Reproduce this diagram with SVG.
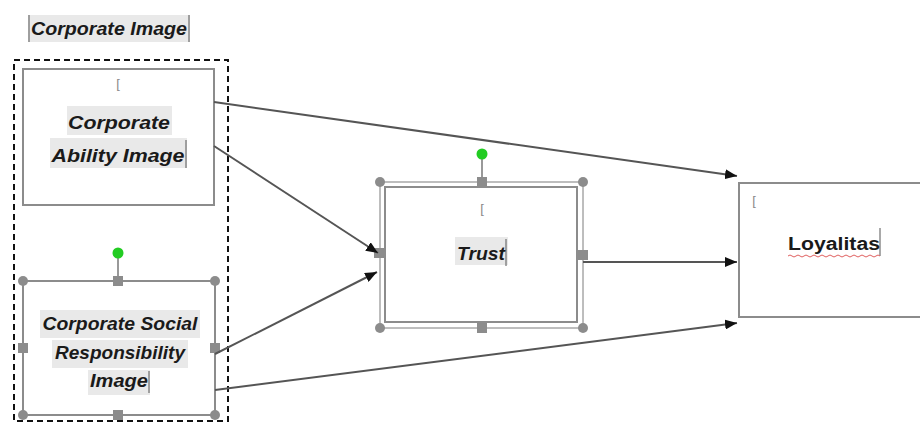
<svg xmlns="http://www.w3.org/2000/svg" width="920" height="423" viewBox="0 0 920 423">
<defs>
<marker id="arr" viewBox="0 0 12 10" refX="12" refY="5" markerWidth="12" markerHeight="10" markerUnits="userSpaceOnUse" orient="auto">
<path d="M0,0 L12,5 L0,10 z" fill="#111"/>
</marker>
<style>
.box{fill:#fff;stroke:#8c8c8c;stroke-width:2}
.frame{fill:none;stroke:#a8a8a8;stroke-width:1.5}
.hl{fill:#e9e9e9}
.lbl{font-family:"Liberation Sans",Arial,sans-serif;font-weight:bold;font-style:italic;font-size:18px;fill:#1a1a1a;text-anchor:middle}
.up{font-style:normal}
.mark{font-family:"Liberation Sans",Arial,sans-serif;font-size:13px;fill:#888;text-anchor:middle}
.conn{stroke:#555;stroke-width:2;fill:none}
.hc{fill:#8c8c8c}
.hs{fill:#8c8c8c}
.cur{stroke:#555;stroke-width:1}
</style>
</defs>
<rect width="920" height="423" fill="#fff"/>

<g id="corporate-image-group">
<rect x="14" y="60" width="214" height="361" fill="none" stroke="#111" stroke-width="2" stroke-dasharray="6,4"/>
<rect class="hl" x="28" y="15" width="162" height="27"/>
<line class="cur" x1="29" y1="15" x2="29" y2="42"/>
<line class="cur" x1="189" y1="15" x2="189" y2="42"/>
<text class="lbl" x="109" y="35" font-size="17" textLength="156" lengthAdjust="spacingAndGlyphs">Corporate Image</text>
</g>

<g id="ability">
<rect class="box" x="23" y="69" width="191" height="136"/>
<text class="mark" x="118" y="88">[</text>
<rect class="hl" x="67" y="106" width="105" height="29"/>
<rect class="hl" x="50" y="138" width="137" height="30"/>
<line class="cur" x1="186" y1="140" x2="186" y2="168"/>
<text class="lbl" x="119" y="129" textLength="102" lengthAdjust="spacingAndGlyphs">Corporate</text>
<text class="lbl" x="118" y="162" textLength="133" lengthAdjust="spacingAndGlyphs">Ability Image</text>
</g>

<g id="csr">
<rect class="box" x="23" y="281" width="192" height="134"/>
<rect class="hl" x="40" y="310" width="160" height="28"/>
<rect class="hl" x="52" y="340" width="136" height="28"/>
<rect class="hl" x="88" y="370" width="62" height="25"/>
<line class="cur" x1="149" y1="371" x2="149" y2="393"/>
<text class="lbl" x="120" y="330" textLength="155" lengthAdjust="spacingAndGlyphs">Corporate Social</text>
<text class="lbl" x="120" y="359" textLength="130" lengthAdjust="spacingAndGlyphs">Responsibility</text>
<text class="lbl" x="119" y="387" textLength="58" lengthAdjust="spacingAndGlyphs">Image</text>
<line x1="118" y1="253" x2="118" y2="281" stroke="#777" stroke-width="1.5"/>
<circle cx="118" cy="253" r="5.5" fill="#22cc22"/>
<circle class="hc" cx="23" cy="281" r="5"/>
<circle class="hc" cx="215" cy="281" r="5"/>
<circle class="hc" cx="23" cy="415" r="5"/>
<circle class="hc" cx="215" cy="415" r="5"/>
<rect class="hs" x="113" y="276" width="10" height="10"/>
<rect class="hs" x="113" y="410" width="10" height="10"/>
<rect class="hs" x="18" y="343" width="10" height="10"/>
<rect class="hs" x="210" y="343" width="10" height="10"/>
</g>

<g id="trust">
<rect class="frame" x="380" y="182" width="203" height="146"/>
<rect class="box" x="385" y="187" width="192" height="135"/>
<text class="mark" x="482" y="213">[</text>
<rect class="hl" x="455" y="237" width="53" height="28"/>
<line class="cur" x1="506" y1="239" x2="506" y2="266"/>
<text class="lbl" x="481" y="260" textLength="48" lengthAdjust="spacingAndGlyphs">Trust</text>
<line x1="482" y1="154" x2="482" y2="182" stroke="#777" stroke-width="1.5"/>
<circle cx="482" cy="154" r="5.5" fill="#22cc22"/>
<circle class="hc" cx="380" cy="182" r="5"/>
<circle class="hc" cx="583" cy="182" r="5"/>
<circle class="hc" cx="380" cy="328" r="5"/>
<circle class="hc" cx="583" cy="328" r="5"/>
<rect class="hs" x="477" y="177" width="10" height="10"/>
<rect class="hs" x="477" y="323" width="10" height="10"/>
<rect class="hs" x="374" y="248" width="10" height="10"/>
<rect class="hs" x="578" y="250" width="10" height="10"/>
</g>

<g id="loyalitas">
<rect class="box" x="739" y="183" width="190" height="134"/>
<text class="mark" x="754" y="205">[</text>
<line class="cur" x1="880" y1="228" x2="880" y2="256"/>
<text class="lbl up" x="834" y="250" textLength="92" lengthAdjust="spacingAndGlyphs">Loyalitas</text>
<path d="M788,256 q2,-2 4,0 t4,0 t4,0 t4,0 t4,0 t4,0 t4,0 t4,0 t4,0 t4,0 t4,0 t4,0 t4,0 t4,0 t4,0 t4,0 t4,0 t4,0 t4,0 t4,0 t4,0 t4,0 t4,0" fill="none" stroke="#e06060" stroke-width="1"/>
</g>

<g id="connectors">
<line class="conn" x1="214" y1="102" x2="737" y2="176" marker-end="url(#arr)"/>
<line class="conn" x1="214" y1="146" x2="378" y2="253" marker-end="url(#arr)"/>
<line class="conn" x1="215" y1="354" x2="377" y2="272" marker-end="url(#arr)"/>
<line class="conn" x1="583" y1="262" x2="737" y2="262" marker-end="url(#arr)"/>
<line class="conn" x1="215" y1="390" x2="737" y2="323" marker-end="url(#arr)"/>
</g>
</svg>
